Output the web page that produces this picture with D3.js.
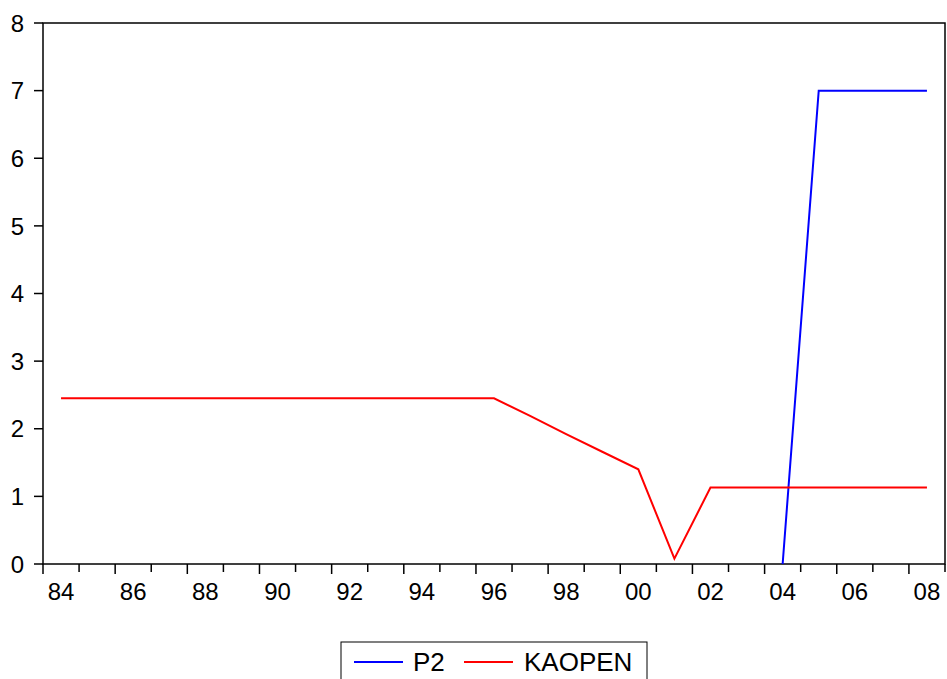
<!DOCTYPE html>
<html><head><meta charset="utf-8">
<script src="https://cdn.jsdelivr.net/npm/d3@7"></script>
<style>body{margin:0;background:#fff}svg{display:block}text{font-family:"Liberation Sans",Arial,sans-serif}</style>
</head><body><svg id="c" width="947" height="679"></svg>
<script>
const years = d3.range(1984, 2009);
const kaopen = [2.45,2.45,2.45,2.45,2.45,2.45,2.45,2.45,2.45,2.45,2.45,2.45,2.45,2.19,1.92,1.66,1.40,0.08,1.13,1.13,1.13,1.13,1.13,1.13,1.13];
const p2 = [null,null,null,null,null,null,null,null,null,null,null,null,null,null,null,null,null,null,null,null,0,7,7,7,7];
const yTicks = [0,1,2,3,4,5,6,7,8];
const xLabelYears = d3.range(1984, 2009, 2);
const seriesNames = ["P2","KAOPEN"];
const colors = ["#0000ff","#ff0000"];

const svg = d3.select("#c");
const L=43, R=945, T=23, B=564;
const x = d3.scaleLinear().domain([1983.5, 2008.5]).range([L, R]);
const y = d3.scaleLinear().domain([0, 8]).range([B, T]);

// frame
svg.append("rect").attr("x",L).attr("y",T).attr("width",R-L).attr("height",B-T)
  .attr("fill","none").attr("stroke","#000").attr("stroke-width",1.5);

// y axis
const gy = svg.append("g");
yTicks.forEach(v=>{
  gy.append("line").attr("x1",L-9).attr("x2",L).attr("y1",y(v)).attr("y2",y(v)).attr("stroke","#000").attr("stroke-width",1.5);
  gy.append("text").attr("x",24).attr("y",y(v)).attr("dy","0.36em").attr("text-anchor","end")
    .attr("font-size",24).text(v);
});

// x ticks at year boundaries
d3.range(1983.5, 2009, 1).forEach((b,i)=>{
  gy.append("line").attr("x1",x(b)).attr("x2",x(b)).attr("y1",B).attr("y2",B+(i%2===0?10:8))
    .attr("stroke","#000").attr("stroke-width",1.5);
});
xLabelYears.forEach(yr=>{
  svg.append("text").attr("x",x(yr)).attr("y",600).attr("text-anchor","middle")
    .attr("font-size",24).text(String(yr%100).padStart(2,"0"));
});

const line = d3.line().defined(d=>d[1]!==null).x(d=>x(d[0])).y(d=>y(d[1]));
svg.append("path").datum(years.map((yr,i)=>[yr,p2[i]])).attr("d",line)
  .attr("fill","none").attr("stroke",colors[0]).attr("stroke-width",2);
svg.append("path").datum(years.map((yr,i)=>[yr,kaopen[i]])).attr("d",line)
  .attr("fill","none").attr("stroke",colors[1]).attr("stroke-width",2);

// legend
const lg = svg.append("g");
lg.append("rect").attr("x",341).attr("y",642).attr("width",306).attr("height",50)
  .attr("fill","#fff").attr("stroke","#000").attr("stroke-width",1);
const items = [{x1:354,x2:403,tx:413},{x1:464,x2:513,tx:524}];
items.forEach((it,i)=>{
  lg.append("line").attr("x1",it.x1).attr("x2",it.x2).attr("y1",662).attr("y2",662)
    .attr("stroke",colors[i]).attr("stroke-width",2);
  lg.append("text").attr("x",it.tx).attr("y",671).attr("font-size",26).text(seriesNames[i]);
});
</script></body></html>
